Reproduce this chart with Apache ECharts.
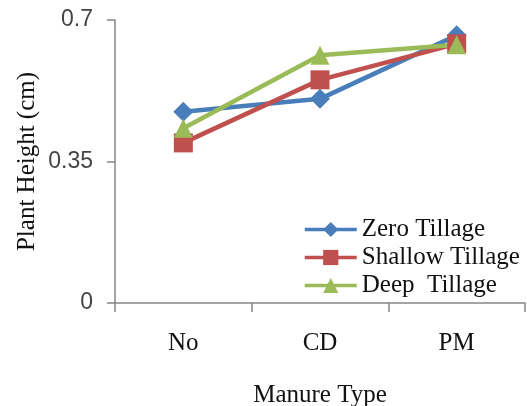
<!DOCTYPE html>
<html>
<head>
<meta charset="utf-8">
<script src="https://cdn.jsdelivr.net/npm/echarts@6/dist/echarts.min.js"></script>
<style>
html,body{margin:0;padding:0;background:#fff;}
#chart{width:527px;height:406px;}
</style>
</head>
<body>
<div id="chart"></div>
<script>
var categories = ['No', 'CD', 'PM'];
var zeroTillage = [0.473, 0.505, 0.662];
var shallowTillage = [0.396, 0.552, 0.641];
var deepTillage = [0.432, 0.613, 0.639];
var seriesNames = ['Zero Tillage', 'Shallow Tillage', 'Deep  Tillage'];
var yTicks = [0, 0.35, 0.7];
var xTitle = 'Manure Type';
var yTitle = 'Plant Height (cm)';

var serif = 'Liberation Serif';
var axisColor = '#868686';

var chart = echarts.init(document.getElementById('chart'), null, {renderer: 'canvas'});
function mk(name, data, color, symbol, size) {
  return {
    name: name, type: 'line', data: data,
    symbol: symbol, symbolSize: size,
    lineStyle: {color: color, width: 4.5},
    itemStyle: {color: color},
    animation: false
  };
}
chart.setOption({
  animation: false,
  grid: {left: 115, right: 2, top: 20, bottom: 103, containLabel: false, outerBoundsMode: 'none'},
  legend: {
    left: 298, top: 212,
    orient: 'vertical',
    itemWidth: 52, itemHeight: 19, itemGap: 3,
    lineStyle: {width: 3.5},
    textStyle: {fontFamily: serif, fontSize: 25, color: '#111'},
    data: seriesNames
  },
  xAxis: {
    type: 'category', data: categories, boundaryGap: true,
    name: xTitle, nameLocation: 'middle', nameGap: 80, nameMoveOverlap: false,
    nameTextStyle: {fontFamily: serif, fontSize: 25, color: '#111'},
    axisLine: {lineStyle: {color: axisColor, width: 1.5}},
    axisTick: {show: true, alignWithLabel: false, length: 9, lineStyle: {color: axisColor, width: 1.5}},
    axisLabel: {fontFamily: serif, fontSize: 25, color: '#111', margin: 28},
    splitLine: {show: false}
  },
  yAxis: {
    type: 'value', min: yTicks[0], max: yTicks[yTicks.length - 1], interval: yTicks[1] - yTicks[0],
    name: yTitle, nameLocation: 'middle', nameGap: 75, nameMoveOverlap: false,
    nameTextStyle: {fontFamily: serif, fontSize: 25, color: '#111'},
    axisLine: {show: true, lineStyle: {color: axisColor, width: 1.5}},
    axisTick: {show: true, length: 8, lineStyle: {color: axisColor, width: 1.5}},
    axisLabel: {fontFamily: 'Liberation Sans', fontSize: 23, color: '#444', margin: 22,
      formatter: function (v) { return String(v); }},
    splitLine: {show: false}
  },
  series: [
    mk(seriesNames[0], zeroTillage, '#4a7ebb', 'diamond', 20),
    mk(seriesNames[1], shallowTillage, '#c0504d', 'rect', 19),
    mk(seriesNames[2], deepTillage, '#9bbb59', 'triangle', 19)
  ]
});
</script>
</body>
</html>
